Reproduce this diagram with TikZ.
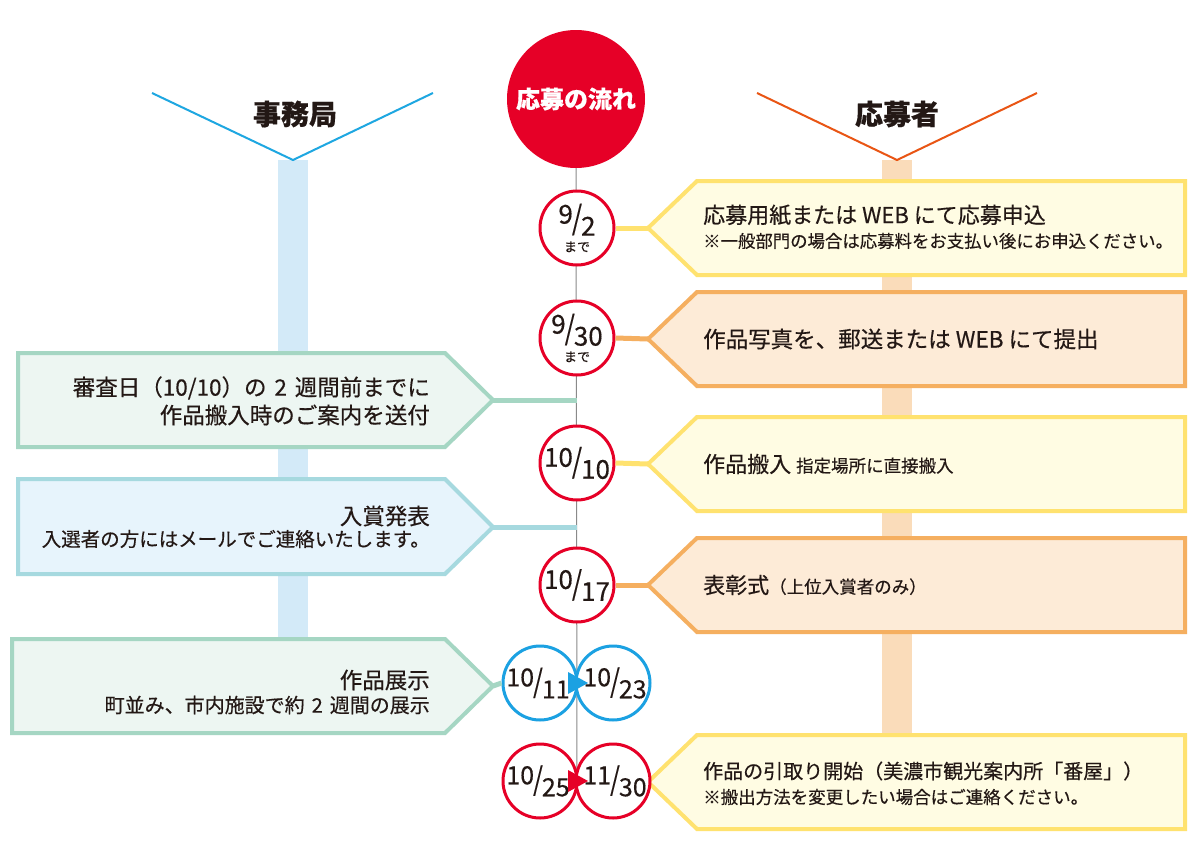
\documentclass[tikz,border=0pt]{standalone}
\usepackage{fontspec}
\usepackage{graphicx}
\setmainfont[FakeBold=0.4]{Noto Sans CJK JP}
\usetikzlibrary{calc}
\definecolor{txt}{HTML}{231815}
\definecolor{mainred}{HTML}{E60027}
\definecolor{cyanln}{HTML}{1EA7E1}
\definecolor{orgln}{HTML}{E95514}
\definecolor{bandblue}{HTML}{D3EAF8}
\definecolor{bandpeach}{HTML}{FADCBA}
\definecolor{ylwb}{HTML}{FFE26F}
\definecolor{ylwf}{HTML}{FFFCE3}
\definecolor{orgb}{HTML}{F5AF60}
\definecolor{orgf}{HTML}{FDEBD7}
\definecolor{mintb}{HTML}{A5D6C3}
\definecolor{mintf}{HTML}{EDF6F2}
\definecolor{skyb}{HTML}{A6D9DF}
\definecolor{skyf}{HTML}{E7F4FC}
\definecolor{bluec}{HTML}{1BA1E2}
\definecolor{grayln}{HTML}{8A8A8A}
\newcommand\mydate[2]{\raisebox{5pt}{#1}\kern-1pt\raisebox{-1pt}{\scalebox{1}[1.25]{/}}\kern-1pt\raisebox{-7pt}{#2}}
\newcommand\fs[1]{\fontsize{#1}{#1}\selectfont}
\tikzset{
  boxline/.style={line width=4pt, line join=miter},
  ylwbox/.style={boxline, draw=ylwb, fill=ylwf},
  orgbox/.style={boxline, draw=orgb, fill=orgf},
  mintbox/.style={boxline, draw=mintb, fill=mintf},
  skybox/.style={boxline, draw=skyb, fill=skyf},
  conn/.style={line width=5pt},
  datec/.style={circle, draw=mainred, line width=3pt, fill=white, minimum size=74pt, inner sep=0pt, text=txt, font=\fs{26}, align=center},
  bluecirc/.style={datec, draw=bluec},
  rtext/.style={anchor=west, text=txt, inner sep=0pt},
  ltext/.style={anchor=east, text=txt, inner sep=0pt},
  head/.style={text=txt, font=\fs{28}\bfseries},
}
\begin{document}
\begin{tikzpicture}[x=1pt,y=-1pt]
\useasboundingbox (0,0) rectangle (1203,860);
\fill[white] (0,0) rectangle (1203,860);
% bands
\fill[bandblue] (278,160) rectangle (308,640);
\fill[bandpeach] (882,160) rectangle (912,735);
% headers
\draw[cyanln, line width=2pt] (152,93) -- (293,160) -- (433,93);
\node[head] (hl) at (295,114) {事務局};
\draw[orgln, line width=2pt] (757,93) -- (897,160) -- (1037,93);
\node[head] (hr) at (897,114) {応募者};
% title circle
\node[circle, fill=mainred, minimum size=138pt, inner sep=0pt, text=white, font=\fs{24}\bfseries] (title) at (576,99) {応募の流れ};
% center line
\coordinate (lineend) at (577,781);
\draw[grayln, line width=1pt] (title.south) -- (lineend);
% right boxes
\coordinate (r1tip) at (648,228);
\draw[ylwbox] (r1tip) -- (697,181) -- (1185,181) -- (1185,275) -- (697,275) -- cycle;
\coordinate (r2tip) at (648,339);
\draw[orgbox] (r2tip) -- (697,292) -- (1185,292) -- (1185,386) -- (697,386) -- cycle;
\coordinate (r3tip) at (648,464);
\draw[ylwbox] (r3tip) -- (697,417) -- (1185,417) -- (1185,511) -- (697,511) -- cycle;
\coordinate (r4tip) at (648,585);
\draw[orgbox] (r4tip) -- (697,538) -- (1185,538) -- (1185,632) -- (697,632) -- cycle;
\coordinate (r5tip) at (648,782);
\draw[ylwbox] (r5tip) -- (697,735) -- (1185,735) -- (1185,829) -- (697,829) -- cycle;
% left boxes
\coordinate (l1tip) at (493,400);
\draw[mintbox] (l1tip) -- (445,353) -- (18,353) -- (18,447) -- (445,447) -- cycle;
\coordinate (l2tip) at (493,527);
\draw[skybox] (l2tip) -- (445,479) -- (18,479) -- (18,574) -- (445,574) -- cycle;
\coordinate (l3tip) at (493,686);
\draw[mintbox] (l3tip) -- (445,639) -- (12,639) -- (12,733) -- (445,733) -- cycle;
% left connectors
\coordinate (c1) at (577,400);
\coordinate (c2) at (577,527);
\draw[conn, mintb] (l1tip) -- (c1);
\draw[conn, skyb] (l2tip) -- (c2);
% date circles
\node[datec] (d1) at (577,228) {\mydate{9}{2}\\[-3pt]{\fs{13}まで}};
\node[datec] (d2) at (577,338) {\mydate{9}{30}\\[-3pt]{\fs{13}まで}};
\node[datec] (d3) at (577,463) {\mydate{10}{10}};
\node[datec] (d4) at (577,585) {\mydate{10}{17}};
\node[bluecirc] (d5a) at (540,683) {};
\node[bluecirc] (d5b) at (613,683) {};
\node[text=txt, font=\fs{25}] (t5a) at (538,683) {\mydate{10}{11}};
\node[text=txt, font=\fs{25}] (t5b) at (615,683) {\mydate{10}{23}};
\node[datec] (d6a) at (540,781) {};
\node[datec] (d6b) at (613,781) {};
\node[text=txt, font=\fs{25}] (t6a) at (538,781) {\mydate{10}{25}};
\node[text=txt, font=\fs{25}] (t6b) at (615,781) {\mydate{11}{30}};
\fill[bluec] (568,672) -- (588,683) -- (568,694) -- cycle;
\fill[mainred] (568,770) -- (588,781) -- (568,792) -- cycle;
% right connectors
\draw[conn, ylwb] (d1.east) -- (r1tip);
\draw[conn, orgb] (d2.east) -- (r2tip);
\draw[conn, ylwb] (d3.east) -- (r3tip);
\draw[conn, orgb] (d4.east) -- (r4tip);
\draw[conn, mintb] (l3tip) -- (d5a.west);
% right texts
\node[rtext, font=\fs{22}] (r1a) at (703,215) {応募用紙または WEB にて応募申込};
\node[rtext, font=\fs{17.4}] (r1b) at (703,241) {※一般部門の場合は応募料をお支払い後にお申込ください。};
\node[rtext, font=\fs{22.5}] (r2a) at (703,339) {作品写真を、郵送または WEB にて提出};
\node[rtext, font=\fs{22}] (r3a) at (703,464) {作品搬入 {\fs{17.5}指定場所に直接搬入}};
\node[rtext, font=\fs{22}] (r4a) at (703,585) {表彰式{\fs{17.5}（上位入賞者のみ）}};
\node[rtext, font=\fs{20}] (r5a) at (703,771) {作品の引取り開始（美濃市観光案内所「番屋」）};
\node[rtext, font=\fs{17.5}] (r5b) at (703,797) {※搬出方法を変更したい場合はご連絡ください。};
% left texts
\node[ltext, font=\fs{22.5}] (l1a) at (430,388) {審査日（10/10）の\hspace{0.35em}2\hspace{0.35em}週間前までに};
\node[ltext, font=\fs{22.5}] (l1b) at (430,415) {作品搬入時のご案内を送付};
\node[ltext, font=\fs{22.5}] (l2a) at (430,516) {入賞発表};
\node[ltext, font=\fs{19.5}] (l2b) at (430,539) {入選者の方にはメールでご連絡いたします。};
\node[ltext, font=\fs{22.5}] (l3a) at (430,680) {作品展示};
\node[ltext, font=\fs{20}] (l3b) at (430,705) {町並み、市内施設で約\hspace{0.35em}2\hspace{0.35em}週間の展示};
\end{tikzpicture}
\end{document}
